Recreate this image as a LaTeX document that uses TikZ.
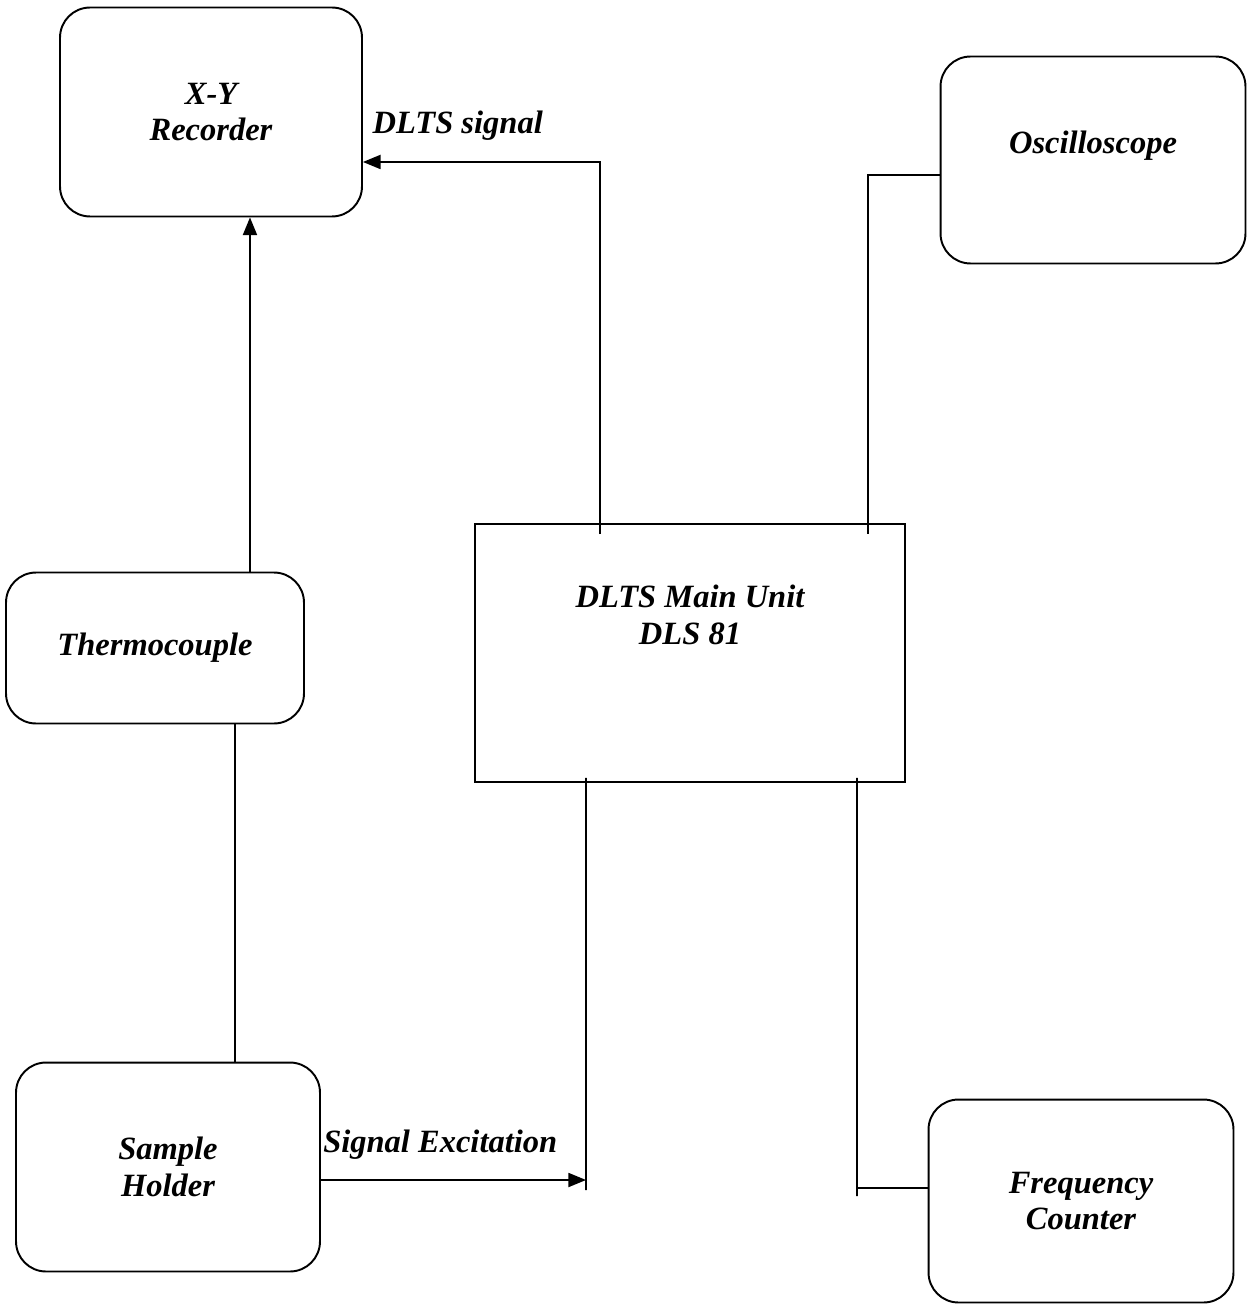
\documentclass[tikz,border=0pt]{standalone}
\usepackage{fontspec}
\setmainfont{Liberation Serif}
\usetikzlibrary{arrows.meta}

\begin{document}
\begin{tikzpicture}[x=0.02cm,y=-0.02cm,
  box/.style={draw,line width=1.1pt,rounded corners=0.6cm,align=center,font=\lbl},
  unit/.style={draw,line width=1.1pt,align=center,font=\lbl},
  lbl/.style={font=\lbl,align=center},
  wire/.style={line width=0.9pt},
  arr/.style={line width=0.9pt,-{Triangle[length=10pt,width=8pt]}}]
\newcommand{\lbl}{\fontsize{18.5}{21}\selectfont\bfseries\itshape}
\useasboundingbox (0,0) rectangle (1248,1307);

\node[box,minimum width=6.04cm,minimum height=4.18cm] (xy) at (211,112) {X-Y\\Recorder};
\node[box,minimum width=6.1cm,minimum height=4.14cm] (osc) at (1093,160) {};
\node[lbl] (osct) at ([yshift=-1.8cm]osc.north) {Oscilloscope};
\node[box,minimum width=5.96cm,minimum height=3.02cm] (thermo) at (155,648) {Thermocouple};
\node[unit,minimum width=8.6cm,minimum height=5.16cm] (main) at (690,653) {};
\node[lbl] (maint) at ([yshift=-1.84cm]main.north) {DLTS Main Unit\\DLS 81};
\node[box,minimum width=6.08cm,minimum height=4.18cm] (sample) at (168,1167) {Sample\\Holder};
\node[box,minimum width=6.1cm,minimum height=4.06cm] (freq) at (1081,1201) {Frequency\\Counter};

\coordinate (exc) at (586,1190);
\coordinate (fc) at (857,1196);

\draw[arr] ([xshift=1.9cm]thermo.north) -- ([xshift=1.9cm]thermo.north |- xy.south);
\draw[wire] ([xshift=1.6cm]thermo.south) -- ([xshift=1.6cm]thermo.south |- sample.north);

\draw[arr] ([xshift=-1.8cm,yshift=-0.22cm]main.north) |- node[lbl,above=0.3cm,pos=0.8] (sig) {DLTS signal} ([yshift=-1cm]xy.east);
\draw[wire] ([yshift=-0.3cm]osc.west) -| ([xshift=3.56cm,yshift=-0.22cm]main.north);

\draw[wire] ([xshift=-2.08cm,yshift=0.1cm]main.south) -- (exc);
\draw[arr] ([yshift=-0.26cm]sample.east) -- node[lbl,above=0.28cm,pos=0.45] (exct) {Signal Excitation} ([yshift=-0.26cm]sample.east -| exc);

\draw[wire] ([xshift=3.34cm,yshift=0.1cm]main.south) -- (fc);
\draw[wire] ([yshift=0.26cm]freq.west) -- ([yshift=0.26cm]freq.west -| fc);
\end{tikzpicture}
\end{document}
